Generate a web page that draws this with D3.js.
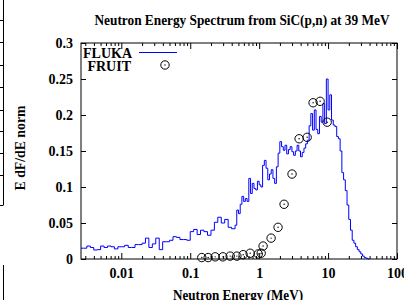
<!DOCTYPE html>
<html>
<head>
<meta charset="utf-8">
<script src="https://cdn.jsdelivr.net/npm/d3@7"></script>
<style>
  body { margin: 0; background: #fff; }
  svg { display: block; }
  text { font-family: "Liberation Serif", "Times New Roman", serif; font-weight: bold; fill: #000; }
</style>
</head>
<body>
<svg width="404" height="300"></svg>
<script>
// FLUKA histogram: lower bin edges (MeV) and bin values
var fluxE = [0.0026, 0.00282, 0.00316, 0.00355, 0.00398, 0.00447, 0.00501, 0.00562, 0.00631, 0.00708,
  0.00794, 0.00891, 0.0100, 0.0112, 0.0126, 0.0141, 0.0158, 0.0178, 0.0200, 0.0224,
  0.0251, 0.0282, 0.0316, 0.0355, 0.0398, 0.0447, 0.0501, 0.0562, 0.0631, 0.0708,
  0.0794, 0.0891, 0.100, 0.112, 0.126, 0.141, 0.158, 0.178, 0.200, 0.224,
  0.251, 0.282, 0.316, 0.355, 0.398,
  0.447, 0.473, 0.501, 0.531, 0.562, 0.596, 0.631, 0.668, 0.708, 0.750,
  0.794, 0.841, 0.891, 0.944, 1.000, 1.059, 1.122, 1.189, 1.259, 1.334,
  1.413, 1.496, 1.585, 1.679, 1.778, 1.884, 1.995, 2.113, 2.239, 2.371,
  2.512, 2.661, 2.818, 2.985, 3.162, 3.350, 3.548, 3.758, 3.981, 4.217,
  4.467, 4.732, 5.012, 5.309, 5.623, 5.957, 6.310, 6.683, 7.079, 7.499,
  7.943, 8.414, 8.913, 9.441, 10.00, 10.59, 11.22, 11.89, 12.59, 13.34,
  14.13, 14.96, 15.85, 16.79, 17.78, 18.84, 19.95, 21.13, 22.39, 23.71,
  25.12, 26.61, 28.18, 29.85, 31.62, 33.50, 35.48, 37.58, 39.81];

var fluxV = [0.015, 0.015, 0.018, 0.016, 0.0125, 0.013, 0.018, 0.016, 0.018, 0.017,
  0.014, 0.017, 0.017, 0.019, 0.016, 0.016, 0.020, 0.020, 0.022, 0.029,
  0.016, 0.021, 0.029, 0.013, 0.024, 0.024, 0.026, 0.031, 0.030, 0.027,
  0.027, 0.026, 0.038, 0.041, 0.034, 0.040, 0.038, 0.033, 0.040, 0.051,
  0.058, 0.050, 0.055, 0.044, 0.042,
  0.047, 0.068, 0.063, 0.076, 0.087, 0.080, 0.084, 0.080, 0.112, 0.091,
  0.105, 0.098, 0.096, 0.108, 0.103, 0.100, 0.130, 0.137, 0.126, 0.110,
  0.118, 0.124, 0.112, 0.105, 0.128, 0.147, 0.163, 0.156, 0.151, 0.158,
  0.146, 0.152, 0.156, 0.149, 0.144, 0.150, 0.158, 0.150, 0.142, 0.148,
  0.154, 0.160, 0.165, 0.185, 0.202, 0.179, 0.207, 0.180, 0.174, 0.198,
  0.190, 0.216, 0.188, 0.250, 0.207, 0.228, 0.193, 0.186, 0.184, 0.170,
  0.167, 0.150, 0.120, 0.110, 0.095, 0.075, 0.055, 0.040, 0.026, 0.022,
  0.017, 0.013, 0.010, 0.007, 0.004, 0.002, 0.001, 0, 0];

// FRUIT points
var fruitE = [0.147, 0.182, 0.230, 0.298, 0.380, 0.475, 0.586, 0.740, 0.970, 1.07,
  1.14, 1.49, 1.88, 2.30, 3.00, 3.80, 4.97, 6.06, 7.66, 9.70];
var fruitV = [0.002, 0.002, 0.003, 0.003, 0.004, 0.004, 0.006, 0.008, 0.007, 0.008,
  0.018, 0.029, 0.044, 0.076, 0.118, 0.167, 0.169, 0.217, 0.219, 0.190];

var xTicks = [0.01, 0.1, 1, 10, 100];
var xTickLabels = ["0.01", "0.1", "1", "10", "100"];
var xMinor = [0.003, 0.004, 0.005, 0.006, 0.007, 0.008, 0.009,
  0.02, 0.03, 0.04, 0.05, 0.06, 0.07, 0.08, 0.09,
  0.2, 0.3, 0.4, 0.5, 0.6, 0.7, 0.8, 0.9,
  2, 3, 4, 5, 6, 7, 8, 9,
  20, 30, 40, 50, 60, 70, 80, 90];
var yTicks = [0, 0.05, 0.1, 0.15, 0.2, 0.25, 0.3];
var yTickLabels = ["0", "0.05", "0.1", "0.15", "0.2", "0.25", "0.3"];

var svg = d3.select("svg"),
    margin = { top: 43, right: 7, bottom: 41, left: 81 },
    width = +svg.attr("width"),
    height = +svg.attr("height");

var x = d3.scaleLog().domain([0.0026, 100]).range([margin.left, width - margin.right]);
var y = d3.scaleLinear().domain([0, 0.3]).range([height - margin.bottom, margin.top]);

// stray lines on the left edge of the source page
var edge = svg.append("g").attr("stroke", "#000").attr("stroke-width", 1);
edge.append("line").attr("x1", 3.5).attr("x2", 3.5).attr("y1", 0).attr("y2", 205);
edge.append("line").attr("x1", 3.5).attr("x2", 3.5).attr("y1", 265).attr("y2", 300);
[20, 42, 65, 87, 110, 131, 153, 175, 205].forEach(function(v) {
  edge.append("line").attr("x1", 0).attr("x2", 3.5).attr("y1", v + 0.5).attr("y2", v + 0.5);
});

// title
svg.append("text")
  .attr("x", 242).attr("y", 25)
  .attr("text-anchor", "middle")
  .attr("font-size", "14px")
  .attr("textLength", 295).attr("lengthAdjust", "spacingAndGlyphs")
  .text("Neutron Energy Spectrum from SiC(p,n) at 39 MeV");

// axes
var gx = svg.append("g").attr("transform", "translate(0," + y(0) + ")")
  .call(d3.axisBottom(x).tickValues(xTicks).tickSize(-6).tickPadding(9)
    .tickFormat(function(d, i) { return xTickLabels[i]; }));
svg.append("g").attr("transform", "translate(0," + y(0) + ")")
  .call(d3.axisBottom(x).tickValues(xMinor).tickSize(-3).tickFormat(""));
svg.append("g").attr("transform", "translate(0," + y(0.3) + ")")
  .call(d3.axisTop(x).tickValues(xTicks).tickSize(-6).tickFormat(""));
svg.append("g").attr("transform", "translate(0," + y(0.3) + ")")
  .call(d3.axisTop(x).tickValues(xMinor).tickSize(-3).tickFormat(""));

var gy = svg.append("g").attr("transform", "translate(" + margin.left + ",0)")
  .call(d3.axisLeft(y).tickValues(yTicks).tickSize(-5).tickPadding(8)
    .tickFormat(function(d, i) { return yTickLabels[i]; }));
svg.append("g").attr("transform", "translate(" + (width - margin.right) + ",0)")
  .call(d3.axisRight(y).tickValues(yTicks).tickSize(-5).tickFormat(""));

svg.selectAll(".domain").remove();
svg.selectAll(".tick line").attr("stroke", "#000");
svg.selectAll(".tick text").attr("font-size", "14px")
  .attr("font-family", "Liberation Serif, serif").attr("font-weight", "bold");

// frame
svg.append("rect")
  .attr("x", margin.left).attr("y", y(0.3))
  .attr("width", x(100) - x(0.0026)).attr("height", y(0) - y(0.3))
  .attr("fill", "none").attr("stroke", "#000").attr("stroke-width", 1);

// axis labels
svg.append("text")
  .attr("x", 238).attr("y", 300)
  .attr("text-anchor", "middle")
  .attr("font-size", "14px")
  .attr("textLength", 130).attr("lengthAdjust", "spacingAndGlyphs")
  .text("Neutron Energy (MeV)");

svg.append("text")
  .attr("transform", "translate(25,148) rotate(-90)")
  .attr("text-anchor", "middle")
  .attr("font-size", "14px")
  .attr("textLength", 85).attr("lengthAdjust", "spacingAndGlyphs")
  .text("E dF/dE norm");

// FLUKA steps
var steps = fluxE.map(function(e, i) { return [e, fluxV[i]]; });
var line = d3.line()
  .x(function(d) { return x(d[0]); })
  .y(function(d) { return y(d[1]); })
  .curve(d3.curveStepAfter);

svg.append("path")
  .datum(steps)
  .attr("d", line)
  .attr("fill", "none")
  .attr("stroke", "#0000ff")
  .attr("stroke-width", 1);

// FRUIT circles
var pts = fruitE.map(function(e, i) { return { e: e, v: fruitV[i] }; });
var gp = svg.append("g");
gp.selectAll("circle.pt")
  .data(pts).enter()
  .append("circle")
  .attr("class", "pt")
  .attr("cx", function(d) { return x(d.e); })
  .attr("cy", function(d) { return y(d.v); })
  .attr("r", 4.2)
  .attr("fill", "none")
  .attr("stroke", "#000")
  .attr("stroke-width", 1);
gp.selectAll("circle.dot")
  .data(pts).enter()
  .append("circle")
  .attr("class", "dot")
  .attr("cx", function(d) { return x(d.e); })
  .attr("cy", function(d) { return y(d.v); })
  .attr("r", 0.7)
  .attr("fill", "#000");

// legend
var legend = svg.append("g");
legend.append("text").attr("x", 132).attr("y", 58).attr("text-anchor", "end")
  .attr("font-size", "14px").text("FLUKA");
legend.append("line").attr("x1", 139).attr("x2", 177).attr("y1", 52.5).attr("y2", 52.5)
  .attr("stroke", "#0000ff").attr("stroke-width", 1);
legend.append("text").attr("x", 131).attr("y", 71).attr("text-anchor", "end")
  .attr("font-size", "14px").text("FRUIT");
legend.append("circle").attr("cx", 165).attr("cy", 65).attr("r", 4.2)
  .attr("fill", "none").attr("stroke", "#000");
legend.append("circle").attr("cx", 165).attr("cy", 65).attr("r", 0.7).attr("fill", "#000");
</script>
</body>
</html>
